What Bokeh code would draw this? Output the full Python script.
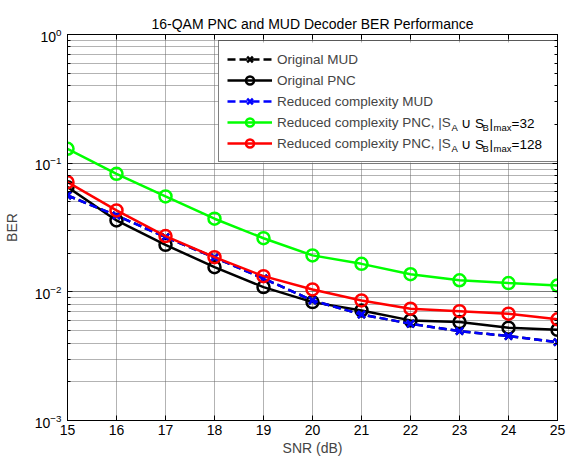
import math
from bokeh.plotting import figure
from bokeh.models import (FixedTicker, LogTicker, LinearAxis, LogAxis, Legend, LegendItem,
                          Range1d, CustomJSTickFormatter, BoxAnnotation)
from bokeh.core.properties import value
from bokeh.embed import file_html
from bokeh.resources import INLINE

# ---- data ----
snr = [15, 16, 17, 18, 19, 20, 21, 22, 23, 24, 25]
ber_orig_mud = [0.0561, 0.0392, 0.0266, 0.0185, 0.0127, 0.00857, 0.00667, 0.00565, 0.00495, 0.00453, 0.00406]
ber_orig_pnc = [0.0651, 0.0359, 0.0232, 0.01556, 0.01088, 0.00832, 0.00717, 0.00600, 0.00582, 0.00526, 0.00507]
ber_red_mud = [0.0561, 0.0392, 0.0266, 0.0185, 0.0127, 0.00857, 0.00667, 0.00565, 0.00495, 0.00453, 0.00406]
ber_red_pnc32 = [0.1294, 0.0827, 0.0551, 0.0370, 0.0261, 0.0192, 0.0165, 0.0137, 0.0123, 0.0117, 0.0112]
ber_red_pnc128 = [0.0712, 0.0429, 0.0271, 0.0186, 0.01324, 0.01044, 0.00857, 0.00739, 0.00708, 0.00676, 0.00611]
x_ticks = [15, 16, 17, 18, 19, 20, 21, 22, 23, 24, 25]

FONT = "Liberation Sans"
W, H = 567, 461
ML, MR, MT, MB = 66, 10, 34, 41
X0, X1, Y0, Y1 = 15, 25, 1e-3, 1
FW, FH = W - ML - MR, H - MT - MB

p = figure(width=W, height=H, y_axis_type="log", output_backend="svg", toolbar_location=None,
           x_range=Range1d(X0, X1), y_range=Range1d(Y0, Y1),
           min_border_left=ML, min_border_right=MR, min_border_top=MT, min_border_bottom=MB,
           title="16-QAM PNC and MUD Decoder BER Performance")
p.title.align = "center"
p.title.text_font = FONT
p.title.text_font_size = "14px"
p.title.text_font_style = "normal"
p.title.text_color = "black"
p.title.standoff = 6

p.outline_line_color = "black"
p.outline_line_width = 1

p.xaxis.ticker = FixedTicker(ticks=x_ticks)
p.yaxis.ticker = LogTicker(num_minor_ticks=10)
for ax in (p.xaxis[0], p.yaxis[0]):
    ax.major_label_text_font = FONT
    ax.major_label_text_font_size = "14px"
    ax.major_label_text_color = "black"
    ax.axis_label_text_font = FONT
    ax.axis_label_text_font_size = "14px"
    ax.axis_label_text_font_style = "normal"
    ax.axis_line_color = "black"
    ax.major_tick_in = 5
    ax.major_tick_out = 0
    ax.minor_tick_in = 3
    ax.minor_tick_out = 0
    ax.major_tick_line_color = "black"
    ax.minor_tick_line_color = "black"
p.xaxis.axis_label = "SNR (dB)"
p.yaxis.axis_label = "BER"
p.xaxis.major_label_standoff = 4
p.xaxis.axis_label_standoff = 2
p.yaxis.major_label_standoff = 6
p.yaxis.axis_label_standoff = 12

# mirrored axes (ticks only) for the MATLAB box look
blank = CustomJSTickFormatter(code="return ''")
top = LinearAxis(ticker=FixedTicker(ticks=x_ticks), formatter=blank,
                 major_label_standoff=0, major_tick_in=5, major_tick_out=0, minor_tick_in=0,
                 minor_tick_out=0, axis_line_color="black")
right = LogAxis(ticker=LogTicker(num_minor_ticks=10), formatter=blank,
                major_label_standoff=0, major_tick_in=5, major_tick_out=0, minor_tick_in=3,
                minor_tick_out=0, axis_line_color="black")
p.add_layout(top, "above")
p.add_layout(right, "right")

GRID = "#666666"
p.xgrid.grid_line_color = GRID
p.xgrid.grid_line_dash = "1 1"
p.ygrid.grid_line_color = GRID
p.ygrid.grid_line_dash = "1 1"
p.ygrid.minor_grid_line_color = GRID
p.ygrid.minor_grid_line_dash = "1 1"

# legend geometry (pixels inside the frame)
PAD, ROWH, SP = 8, 20, 1
GW, STAND, LABW = 45, 5, 272
LEG_LEFT, LEG_BOTTOM = 151, 258
leg_w = 2 * PAD + GW + STAND + LABW
leg_h = 2 * PAD + 5 * ROWH + 4 * SP

def px_to_x(px):
    return X0 + px / FW * (X1 - X0)

def py_to_y(py):  # py measured up from frame bottom
    lo, hi = math.log10(Y0), math.log10(Y1)
    return 10 ** (lo + py / FH * (hi - lo))

# white backing for the legend (sits under the curves' level, over the grid)
p.add_layout(BoxAnnotation(left=px_to_x(LEG_LEFT), right=px_to_x(LEG_LEFT + leg_w),
                           bottom=py_to_y(LEG_BOTTOM), top=py_to_y(LEG_BOTTOM + leg_h),
                           fill_color="white", fill_alpha=1, line_alpha=0, level="underlay"))

LW = 2.5
MS = 12

r1l = p.line(snr, ber_orig_mud, color="black", line_width=LW, line_dash="8 4")
r1m = p.scatter(snr, ber_orig_mud, marker="x", color="black", size=MS - 2, line_width=LW)
r2l = p.line(snr, ber_orig_pnc, color="black", line_width=LW)
r2m = p.scatter(snr, ber_orig_pnc, marker="circle", line_color="black", fill_color=None, size=MS, line_width=LW)
r3l = p.line(snr, ber_red_mud, color="#0000ff", line_width=LW, line_dash="8 4")
r3m = p.scatter(snr, ber_red_mud, marker="x", color="#0000ff", size=MS - 2, line_width=LW)
r4l = p.line(snr, ber_red_pnc32, color="#00ff00", line_width=LW)
r4m = p.scatter(snr, ber_red_pnc32, marker="circle", line_color="#00ff00", fill_color=None, size=MS, line_width=LW)
r5l = p.line(snr, ber_red_pnc128, color="#ff0000", line_width=LW)
r5m = p.scatter(snr, ber_red_pnc128, marker="circle", line_color="#ff0000", fill_color=None, size=MS, line_width=LW)

legend = Legend(items=[
    LegendItem(label="Original MUD", renderers=[r1l, r1m]),
    LegendItem(label="Original PNC", renderers=[r2l, r2m]),
    LegendItem(label="Reduced complexity MUD", renderers=[r3l, r3m]),
    LegendItem(label="Reduced complexity PNC, |S", renderers=[r4l, r4m]),
    LegendItem(label="Reduced complexity PNC, |S", renderers=[r5l, r5m]),
], location=(LEG_LEFT, LEG_BOTTOM), padding=PAD, spacing=SP, glyph_width=GW, glyph_height=ROWH,
   label_height=ROWH, label_width=LABW, label_standoff=STAND, margin=0,
   label_text_font=FONT, label_text_font_size="13.5px", border_line_color="black",
   border_line_width=1.5, background_fill_alpha=0)
p.add_layout(legend)

# subscript parts of the last two legend labels, as text anchored at the frame's top-left
leg_top_from_top = FH - (LEG_BOTTOM + leg_h)
x0 = LEG_LEFT + PAD + GW + STAND + 175
pieces = [("A", 0, 4, "9.5px"), ("\u2009\u222a S", 7, 0, "13.5px"), ("B", 31, 4, "9.5px"),
          ("|", 38, 0, "13.5px"), ("max", 42, 4, "9.5px"), ("=32", 60, 0, "13.5px")]
for row, tail in ((3, "32"), (4, "128")):
    yc = leg_top_from_top + PAD + row * (ROWH + SP) + ROWH / 2
    for txt, dx, dy, fs in pieces:
        if txt == "=32":
            txt = "=" + tail
        p.text(x=[X0], y=[Y1], text=[txt], x_offset=x0 + dx, y_offset=yc + dy,
               text_font=value(FONT), text_font_size=value(fs), text_baseline="middle",
               text_align="left", text_color="black")

open("out.html", "w").write(file_html(p, INLINE))
